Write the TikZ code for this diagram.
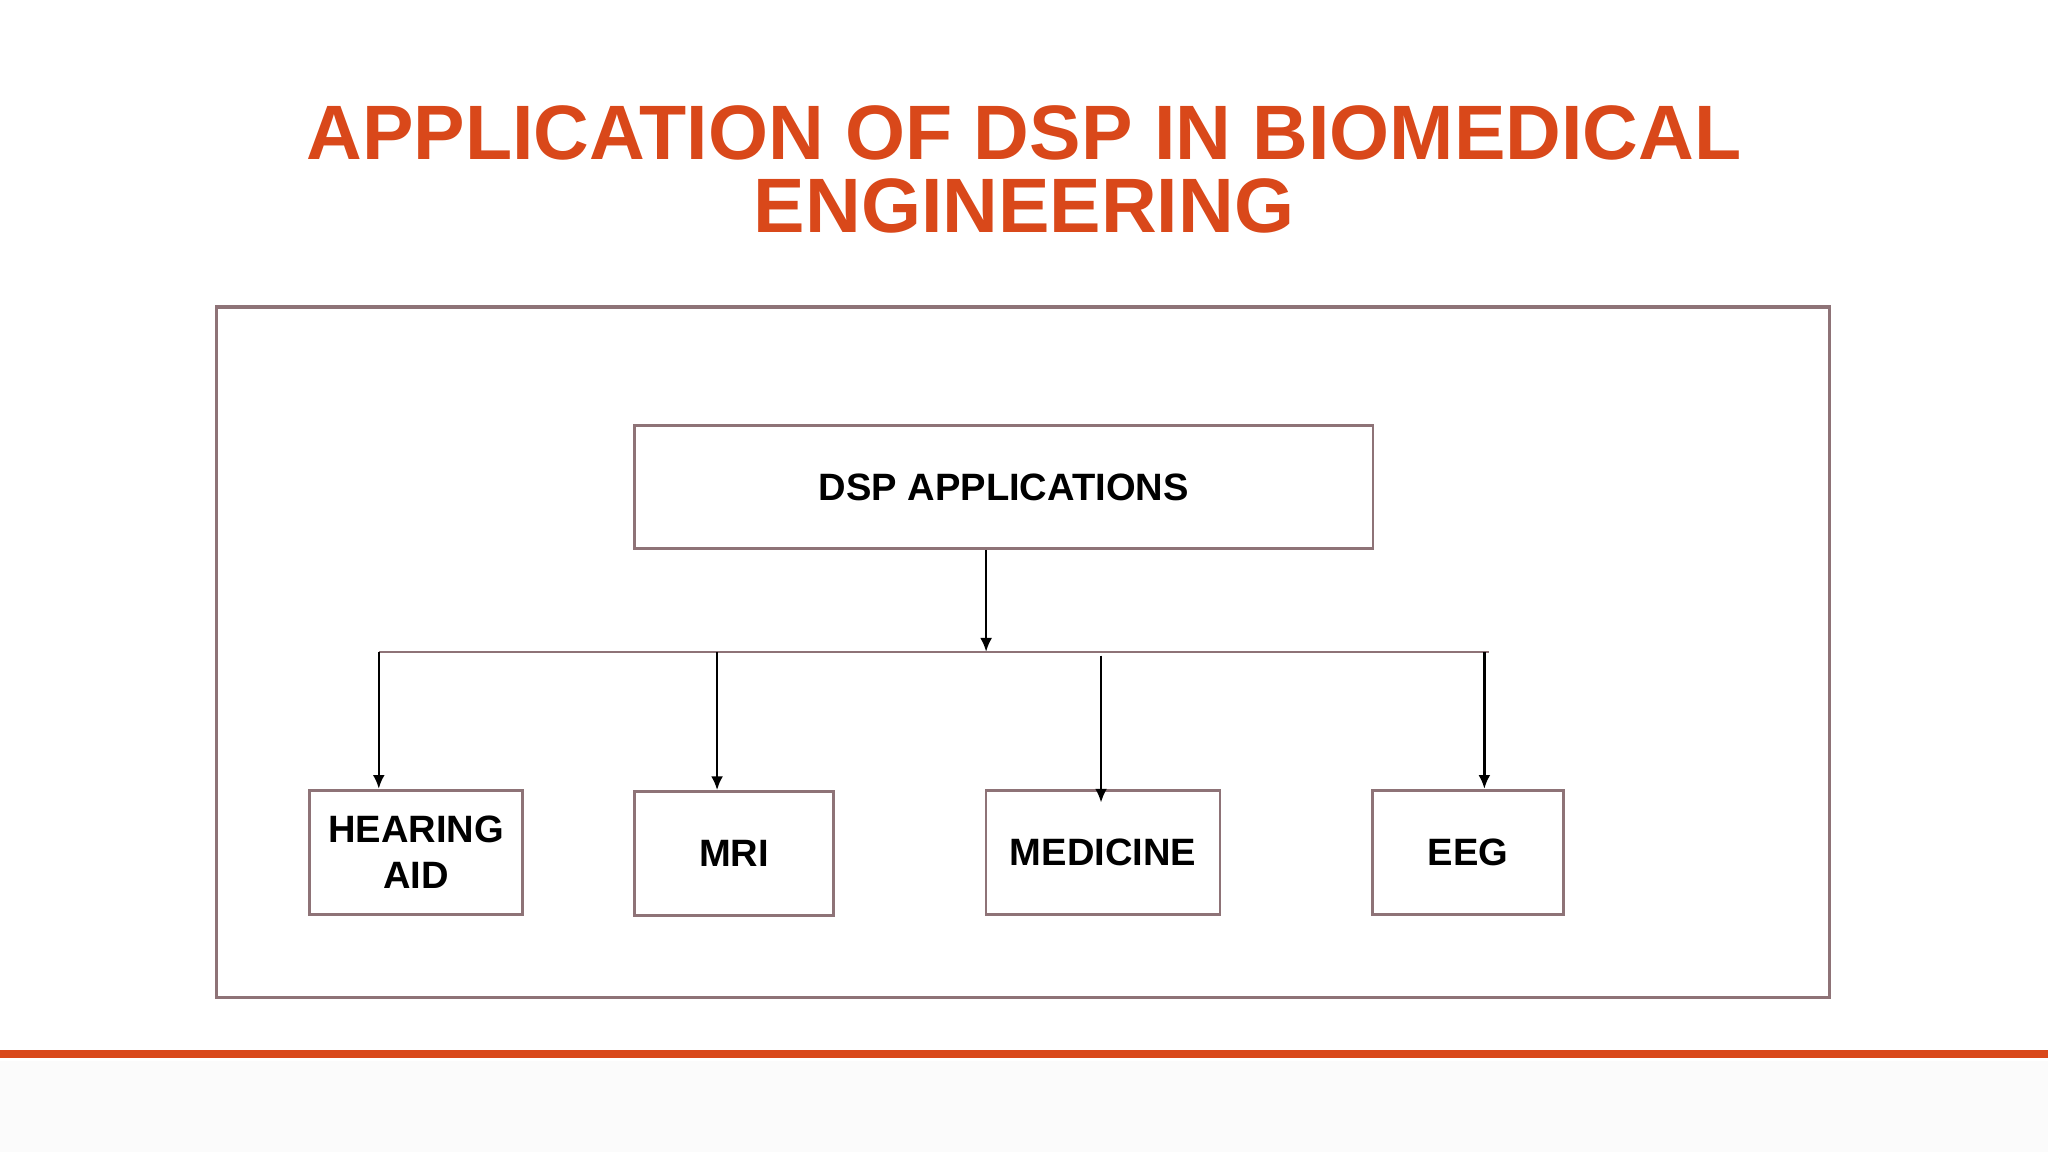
\documentclass[tikz,border=0pt]{standalone}
\usepackage{fontspec}
\setmainfont{Liberation Sans}
\usetikzlibrary{arrows.meta}
\definecolor{ttl}{HTML}{D9481A}
\definecolor{frm}{HTML}{8E7377}
\begin{document}
\begin{tikzpicture}[x=0.01cm,y=-0.01cm,
  box/.style={draw=frm,line width=0.6pt,inner sep=0pt,font=\fontsize{8.3}{10}\selectfont\bfseries,align=center},
  arr/.style={-{Latex[length=3pt,width=2.6pt]},line width=0.5pt},
  ln/.style={line width=0.5pt,draw=frm}]
\useasboundingbox (0,0) rectangle (1568,882);
\fill[white] (0,0) rectangle (1568,812);
\fill[black!1.5] (0,812) rectangle (1568,882);
\fill[ttl] (0,804) rectangle (1568,810);
\node[font=\fontsize{16.8}{15.9}\selectfont\bfseries,text=ttl,align=center] (title) at (784,130)
  {APPLICATION OF DSP IN BIOMEDICAL\\ENGINEERING};
\draw[frm,line width=0.7pt] (166,235) rectangle (1401,764);
\node[box,minimum width=5.65cm,minimum height=0.94cm] (dsp) at (768.5,373) {DSP APPLICATIONS};
\node[box,minimum width=1.63cm,minimum height=0.95cm] (ha) at (318.5,652.5) {HEARING\\AID};
\node[box,minimum width=1.52cm,minimum height=0.95cm] (mri) at (562,653.5) {MRI};
\node[box,minimum width=1.79cm,minimum height=0.95cm] (med) at (844.5,652.5) {MEDICINE};
\node[box,minimum width=1.46cm,minimum height=0.95cm] (eeg) at (1124,652.5) {EEG};
\coordinate (j) at (755,499);
\coordinate (l) at (290,499);
\coordinate (r) at (1140,499);
\coordinate (m) at (549,499);
\coordinate (d) at (843,502);
\draw[arr] (dsp.south -| j) -- (j);
\draw[ln] (l) -- (r);
\draw[arr] (l) -- (l |- ha.north);
\draw[arr] (m) -- (m |- mri.north);
\draw[arr] (d) -- ([yshift=-3]d |- med.north);
\draw[arr] ([xshift=-1]r) -- ([xshift=-1]r |- eeg.north);
\end{tikzpicture}
\end{document}
